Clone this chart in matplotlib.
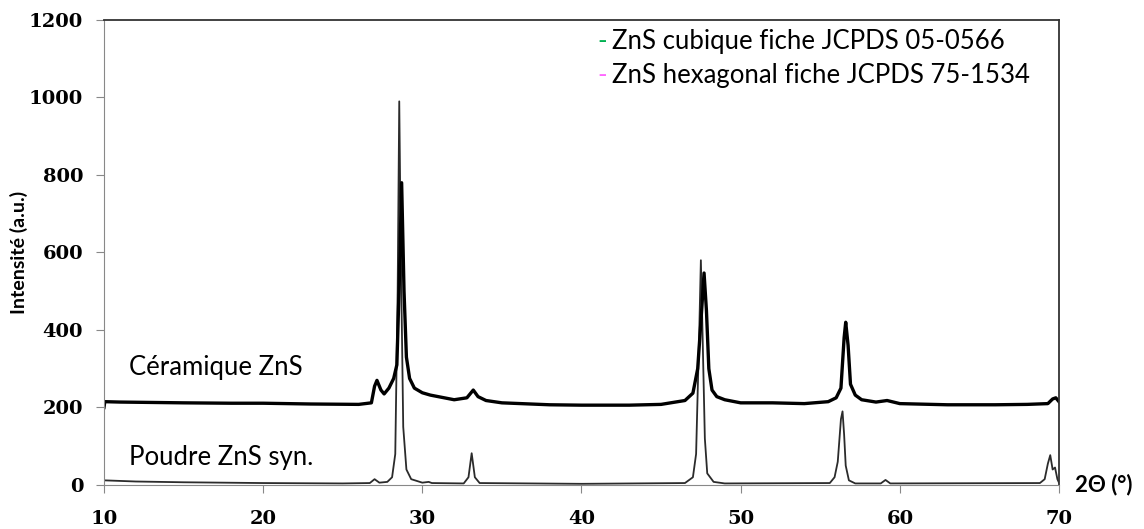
import matplotlib
matplotlib.use("Agg")
import matplotlib.pyplot as plt

# Diffractogramme : poudre ZnS synthétisée (en bas) et céramique ZnS (en haut)
poudre_x = [10.0, 12.0, 15.0, 20.0, 25.0, 26.7, 27.0, 27.3, 27.8, 28.1, 28.3, 28.45, 28.55,
            28.65, 28.8, 29.0, 29.3, 30.0, 30.4, 30.6, 32.6, 32.9, 33.1, 33.3, 33.6, 40.0,
            46.5, 47.0, 47.2, 47.4, 47.5, 47.6, 47.75, 47.9, 48.3, 49.0, 55.6, 55.9, 56.1,
            56.3, 56.4, 56.5, 56.6, 56.8, 57.2, 58.8, 59.1, 59.4, 68.8, 69.1, 69.3, 69.45,
            69.6, 69.75, 69.9, 70.0]
poudre_y = [12, 9, 7, 5, 4, 5, 15, 6, 8, 20, 80, 500, 990,
            600, 150, 40, 15, 6, 8, 5, 4, 20, 82, 20, 5, 3,
            5, 20, 80, 400, 580, 400, 120, 30, 8, 4, 5, 20, 60,
            170, 190, 130, 50, 12, 4, 4, 13, 4, 5, 15, 55, 77,
            40, 45, 15, 6]

ceram_x = [10.0, 10.05, 11.0, 13.0, 15.0, 18.0, 20.0, 23.0, 26.0, 26.8, 27.0, 27.15, 27.4,
           27.6, 27.9, 28.2, 28.4, 28.55, 28.7, 28.85, 29.0, 29.2, 29.5, 30.0, 30.5, 31.0,
           32.0, 32.8, 33.2, 33.5, 34.0, 35.0, 38.0, 40.0, 43.0, 45.0, 46.5, 47.0, 47.3,
           47.5, 47.7, 47.85, 48.0, 48.2, 48.5, 49.0, 50.0, 52.0, 54.0, 55.5, 56.0, 56.3,
           56.5, 56.6, 56.75, 56.9, 57.2, 57.6, 58.5, 59.2, 60.0, 63.0, 66.0, 68.0, 69.3,
           69.6, 69.8, 70.0]
ceram_y = [200, 215, 214, 213, 212, 211, 211, 209, 208, 212, 255, 270, 245,
           235, 250, 275, 310, 520, 780, 500, 330, 275, 250, 238, 232, 228,
           220, 225, 245, 228, 218, 212, 207, 206, 206, 208, 218, 237, 300,
           420, 547, 450, 300, 245, 228, 220, 212, 212, 210, 215, 225, 250,
           380, 420, 360, 260, 232, 220, 214, 218, 210, 207, 207, 208, 210,
           222, 225, 215]

x_ticks = [10, 20, 30, 40, 50, 60, 70]
y_ticks = [0, 200, 400, 600, 800, 1000, 1200]

fig = plt.figure(figsize=(11.44, 5.29), dpi=100)
ax = fig.add_axes([0.0909, 0.0832, 0.8348, 0.879])

ax.plot(poudre_x, poudre_y, color="#2b2b2b", lw=1.3)
ax.plot(ceram_x, ceram_y, color="black", lw=2.4)

ax.set_xlim(10, 70)
ax.set_ylim(0, 1200)
ax.set_xticks(x_ticks)
ax.set_yticks(y_ticks)
tick_font = dict(family="DejaVu Serif", weight="bold", size=14)
ax.set_xticklabels([str(v) for v in x_ticks], **tick_font)
ax.set_yticklabels([str(v) for v in y_ticks], **tick_font)
ax.tick_params(axis="both", direction="out", length=6, color="#888888")
ax.tick_params(axis="y", pad=9)
ax.tick_params(axis="x", pad=12)

for side in ["left", "bottom"]:
    ax.spines[side].set_color("#888888")
for side in ["top", "right"]:
    ax.spines[side].set_color("#333333")
    ax.spines[side].set_linewidth(1.3)

ax.set_ylabel("Intensité (a.u.)", family="Lato", weight="bold", size=14)
ax.yaxis.set_label_coords(-0.08, 0.5)

label_font = dict(family="Lato", size=18.5, va="center")
ax.text(11.6, 302, "Céramique ZnS", **label_font)
ax.text(11.6, 70, "Poudre ZnS syn.", **label_font)

# légende manuelle
fig.text(597 / 1144, 1 - 42 / 529, "-", color="#00b050", **label_font)
fig.text(612 / 1144, 1 - 42 / 529, "ZnS cubique fiche JCPDS 05-0566", **label_font)
fig.text(597 / 1144, 1 - 75 / 529, "-", color="#ff66ff", **label_font)
fig.text(612 / 1144, 1 - 75 / 529, "ZnS hexagonal fiche JCPDS 75-1534", **label_font)

fig.text(1075 / 1144, 1 - 485 / 529, "2Θ (°)", family="Lato", weight="bold", size=16, va="center")

fig.savefig("out.png", dpi=100, facecolor="white")
